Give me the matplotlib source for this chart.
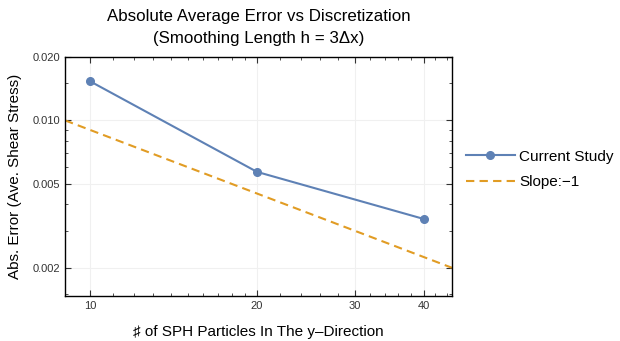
import numpy as np
import matplotlib.pyplot as plt
from matplotlib.ticker import FixedLocator, NullFormatter

plt.rcParams['font.family'] = ['Liberation Sans', 'DejaVu Sans']

# data
particles = [10, 20, 40]
abs_error = [0.0153, 0.0057, 0.00341]

# reference slope -1 line: y = c / x
slope_x = [9, 45]
slope_c = 0.09

x_ticks = [10, 20, 30, 40]
y_ticks = [0.002, 0.005, 0.010, 0.020]
y_tick_labels = ['0.002', '0.005', '0.010', '0.020']

blue = '#5e81b5'
orange = '#e19c24'

fig = plt.figure(figsize=(6.2, 3.41), dpi=100)
ax = fig.add_axes([0.105, 0.132, 0.624, 0.701])

sx = np.array(slope_x, dtype=float)
ax.plot(particles, abs_error, '-o', color=blue, lw=1.5, ms=5.5, label='Current Study')
ax.plot(sx, slope_c / sx, '--', color=orange, lw=1.5, dashes=(4, 2.5), label='Slope:\u22121')

ax.set_xscale('log')
ax.set_yscale('log')
ax.set_xlim(9, 45)
ax.set_ylim(0.00147, 0.020)

ax.xaxis.set_major_locator(FixedLocator(x_ticks))
ax.set_xticklabels([str(v) for v in x_ticks])
ax.xaxis.set_minor_locator(FixedLocator([9, 11, 12, 13, 14, 15, 16, 17, 18, 19,
                                         22, 24, 26, 28, 32, 34, 36, 38, 42, 44]))
ax.xaxis.set_minor_formatter(NullFormatter())
ax.yaxis.set_major_locator(FixedLocator(y_ticks))
ax.set_yticklabels(y_tick_labels)
ax.yaxis.set_minor_locator(FixedLocator([0.0015, 0.003, 0.004, 0.006, 0.007, 0.008,
                                         0.009, 0.015]))
ax.yaxis.set_minor_formatter(NullFormatter())

ax.tick_params(which='both', direction='in', top=True, right=True, labelsize=8, colors='#333333')
ax.tick_params(which='major', length=4, width=0.8)
ax.tick_params(which='minor', length=2, width=0.6)
ax.grid(True, which='major', color='#f0f0f0', lw=0.8)
ax.set_axisbelow(True)
for s in ax.spines.values():
    s.set_linewidth(1.0)

ax.set_xlabel('\u266f of SPH Particles In The y\u2013Direction', fontsize=11, labelpad=10)
ax.set_ylabel('Abs. Error (Ave. Shear Stress)', fontsize=11, labelpad=8)
ax.set_title('Absolute Average Error vs Discretization\n(Smoothing Length h = 3\u0394x)',
             fontsize=12.2, pad=10, linespacing=1.55)

ax.legend(loc='center left', bbox_to_anchor=(1.0, 0.53), frameon=False, fontsize=11,
          handlelength=3.2, handletextpad=0.3, labelspacing=0.75)

fig.savefig('out.png', dpi=100)
